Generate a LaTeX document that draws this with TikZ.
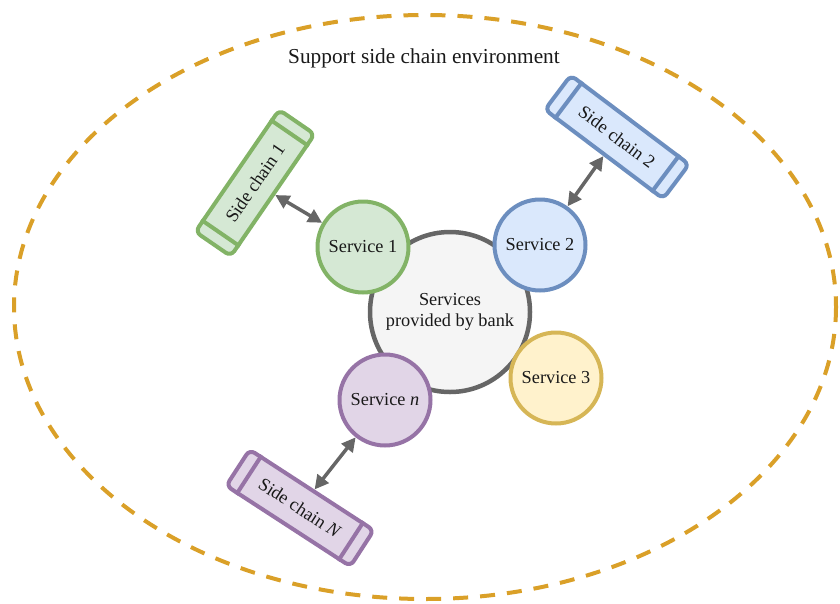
\documentclass[tikz,border=0pt]{standalone}
\usepackage{fontspec}
\setmainfont{Liberation Serif}
\definecolor{envc}{RGB}{218,160,40}
\definecolor{greenf}{HTML}{D5E8D4}\definecolor{greend}{HTML}{82B366}
\definecolor{bluef}{HTML}{DAE8FC}\definecolor{blued}{HTML}{6C8EBF}
\definecolor{yelf}{HTML}{FFF2CC}\definecolor{yeld}{HTML}{D6B656}
\definecolor{purf}{HTML}{E1D5E7}\definecolor{purd}{HTML}{9673A6}
\definecolor{grayf}{HTML}{F5F5F5}\definecolor{grayd}{HTML}{666666}
\usetikzlibrary{arrows.meta,calc}
\tikzset{
  svc/.style={circle, line width=4pt, minimum size=91pt, inner sep=0pt,
    font=\fontsize{18.3}{21}\selectfont, text=black!90},
  chain/.style={rectangle, rounded corners=6pt, line width=4pt, minimum width=148pt,
    minimum height=43pt, inner sep=0pt, font=\fontsize{18.3}{21}\selectfont, text=black!90},
  link/.style={line width=3.5pt, draw=grayd, {Triangle[length=14pt,width=14pt]}-{Triangle[length=14pt,width=14pt]}},
}
\begin{document}
\begin{tikzpicture}[x=1pt,y=-1pt]
\useasboundingbox (0,0) rectangle (840,603);
\draw[envc, line width=4pt, dash pattern=on 15pt off 12pt] (425,307) ellipse [x radius=411, y radius=292];
\node[font=\fontsize{21.3}{24}\selectfont, text=black!90] (title) at (424,58) {Support side chain environment};

\node[circle, draw=grayd, fill=grayf, line width=4.5pt, minimum size=160pt, inner sep=0pt,
  align=center, font=\fontsize{18.3}{21}\selectfont, text=black!90] (bank) at (450,312) {Services\\provided by bank};

\node[svc, draw=greend, fill=greenf] (s1) at (363,247) {Service 1};
\node[svc, draw=blued, fill=bluef] (s2) at (540,245) {Service 2};
\node[svc, draw=yeld, fill=yelf] (s3) at (556,378) {Service 3};
\node[svc, draw=purd, fill=purf] (sn) at (385,400) {Service \textit{n}};

\node[chain, draw=greend, fill=greenf, rotate=55.5] (c1) at (255,183) {Side chain 1};
\node[chain, draw=blued, fill=bluef, rotate=-37] (c2) at (617,137) {Side chain 2};
\node[chain, draw=purd, fill=purf, rotate=-33] (cn) at (300,508) {Side chain \textit{N}};

\foreach \c/\col in {c1/greend, c2/blued, cn/purd}{
  \draw[line width=4pt, draw=\col] ($(\c.north west)!0.1!(\c.north east)$) -- ($(\c.south west)!0.1!(\c.south east)$);
  \draw[line width=4pt, draw=\col] ($(\c.north east)!0.1!(\c.north west)$) -- ($(\c.south east)!0.1!(\c.south west)$);
}

\draw[link] (c1) -- (s1);
\draw[link] (c2) -- (s2);
\draw[link] (cn) -- (sn);
\end{tikzpicture}
\end{document}
